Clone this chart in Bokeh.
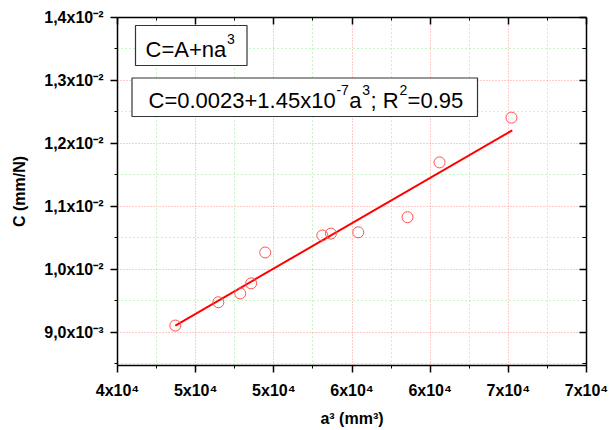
from bokeh.plotting import figure
from bokeh.models import LinearAxis, FixedTicker, Label, BoxAnnotation, Range1d
from bokeh.embed import file_html
from bokeh.resources import INLINE

# ---- data ----
a3_values = [43700, 46450, 47850, 48550, 49450, 53100, 53650, 55400, 58550, 60600, 65200]
C_values = [0.00911, 0.00948, 0.00962, 0.00978, 0.01027, 0.01054, 0.01057, 0.01059,
            0.01083, 0.01170, 0.01241]
fit_a3 = [43700, 65250]
fit_C = [0.00911, 0.01221]

x_ticks = [40000, 45000, 50000, 55000, 60000, 65000, 70000]
x_minor_ticks = [42500, 47500, 52500, 57500, 62500, 67500]
x_tick_labels = ["4x10\u2074", "5x10\u2074", "5x10\u2074", "6x10\u2074", "6x10\u2074",
                 "7x10\u2074", "7x10\u2074"]
y_ticks = [0.009, 0.010, 0.011, 0.012, 0.013, 0.014]
y_minor_ticks = [0.0085, 0.0095, 0.0105, 0.0115, 0.0125, 0.0135]
y_tick_labels = ["9,0x10\u207b\u00b3", "1,0x10\u207b\u00b2", "1,1x10\u207b\u00b2",
                 "1,2x10\u207b\u00b2", "1,3x10\u207b\u00b2", "1,4x10\u207b\u00b2"]

x_title = "a\u00b3 (mm\u00b3)"
y_title = "C (mm/N)"
# (text, is_superscript)
model_parts = [("C=A+na", False), ("3", True)]
fit_parts = [("C=0.0023+1.45x10", False), ("-7", True), ("a", False), ("3", True),
             ("; R", False), ("2", True), ("=0.95", False)]

# ---- layout ----
W, H = 611, 430
FL, FR, FT, FB = 117, 586, 17, 365
XMIN, XMAX = 40000, 70000
YMIN, YMAX = 0.008476, 0.014


def dx(px):
    return XMIN + (px - FL) * (XMAX - XMIN) / (FR - FL)


def dy(py):
    return YMAX - (py - FT) * (YMAX - YMIN) / (FB - FT)


# Arial / Liberation Sans advance widths (per 1000 em), regular
ADV = {' ': 278, '+': 584, '-': 333, '.': 278, ';': 278, '=': 584, 'A': 667, 'C': 722,
       'R': 722, 'a': 556, 'n': 556, 'x': 500}
for d in "0123456789":
    ADV[d] = 556


def text_w(s, size):
    return sum(ADV.get(ch, 556) for ch in s) * size / 1000.0


FONT = "Liberation Sans"

p = figure(width=W, height=H, x_range=Range1d(XMIN, XMAX), y_range=Range1d(YMIN, YMAX),
           output_backend="svg", toolbar_location=None,
           min_border_left=FL, min_border_right=W - FR, min_border_top=FT,
           min_border_bottom=H - FB)
p.outline_line_color = None
p.background_fill_color = "white"
p.border_fill_color = "white"

xt = FixedTicker(ticks=x_ticks, minor_ticks=x_minor_ticks)
yt = FixedTicker(ticks=y_ticks, minor_ticks=y_minor_ticks)

xa = p.xaxis[0]
xa.ticker = xt
xa.axis_label = x_title
xa.major_label_overrides = dict(zip(x_ticks, x_tick_labels))
ya = p.yaxis[0]
ya.ticker = yt
ya.axis_label = y_title
ya.major_label_overrides = dict(zip(y_ticks, y_tick_labels))

for ax in (xa, ya):
    ax.axis_line_color = "black"
    ax.axis_line_width = 1.5
    ax.major_tick_line_color = "black"
    ax.minor_tick_line_color = "black"
    ax.major_tick_line_width = 1.5
    ax.major_tick_in = 0
    ax.major_tick_out = 7
    ax.minor_tick_in = 0
    ax.minor_tick_out = 3
    ax.major_label_text_font = FONT
    ax.major_label_text_font_style = "bold"
    ax.major_label_text_font_size = "16px"
    ax.major_label_text_color = "black"
    ax.axis_label_text_font = FONT
    ax.axis_label_text_font_style = "bold"
    ax.axis_label_text_font_size = "16px"
    ax.axis_label_text_color = "black"
ya.major_label_standoff = 7
ya.axis_label_standoff = 13
xa.major_label_standoff = 9
xa.axis_label_standoff = 8

top = LinearAxis(ticker=xt, major_label_text_font_size="0px", major_tick_in=7, major_tick_out=0,
                 minor_tick_in=3, minor_tick_out=0, axis_line_width=1.5,
                 major_tick_line_width=1.5, major_label_standoff=0)
right = LinearAxis(ticker=yt, major_label_text_font_size="0px", major_tick_in=7, major_tick_out=0,
                   minor_tick_in=4, minor_tick_out=0, axis_line_width=1.5,
                   major_tick_line_width=1.5, major_label_standoff=0)
top.major_label_overrides = {t: "" for t in x_ticks}
right.major_label_overrides = {t: "" for t in y_ticks}
p.add_layout(top, "above")
p.add_layout(right, "right")

for g in (p.xgrid[0], p.ygrid[0]):
    g.grid_line_color = "#ff8080"
    g.grid_line_alpha = 0.8
    g.grid_line_dash = "1 2"
    g.grid_line_width = 1
    g.minor_grid_line_color = "#80ee80"
    g.minor_grid_line_alpha = 0.9
    g.minor_grid_line_dash = "1 3"
    g.minor_grid_line_width = 1

# fit line and data points
p.line(fit_a3, fit_C, line_color="#ff0000", line_width=2)
p.scatter(a3_values, C_values, marker="circle", size=11, fill_color=None,
          line_color="#ff5050", line_width=1)

# ---- annotation boxes ----
p.add_layout(BoxAnnotation(left=dx(135), right=dx(246.5), top=dy(25), bottom=dy(65),
                           fill_color="white", fill_alpha=1, line_color="#333333",
                           line_width=1.2, line_alpha=1))
p.add_layout(BoxAnnotation(left=dx(131.5), right=dx(477), top=dy(77.5), bottom=dy(116),
                           fill_color="white", fill_alpha=1, line_color="#333333",
                           line_width=1.2, line_alpha=1))

MAIN, SUP = 22, 14
SHIFT = -6  # baseline correction


def rich_text(parts, px_left, py_base):
    xpos = px_left
    base = py_base + SHIFT
    for s, sup in parts:
        if sup:
            xpos += 0.8
            p.add_layout(Label(x=dx(xpos), y=dy(base - 11), text=s, text_font=FONT,
                               text_font_size=f"{SUP}px", text_color="black",
                               text_baseline="alphabetic", text_align="left"))
            xpos += text_w(s, SUP) + 0.4
        else:
            p.add_layout(Label(x=dx(xpos), y=dy(base), text=s, text_font=FONT,
                               text_font_size=f"{MAIN}px", text_color="black",
                               text_baseline="alphabetic", text_align="left"))
            xpos += text_w(s, MAIN)


rich_text(model_parts, 145, 55)
rich_text(fit_parts, 148, 106)

open("out.html", "w").write(file_html(p, INLINE))
